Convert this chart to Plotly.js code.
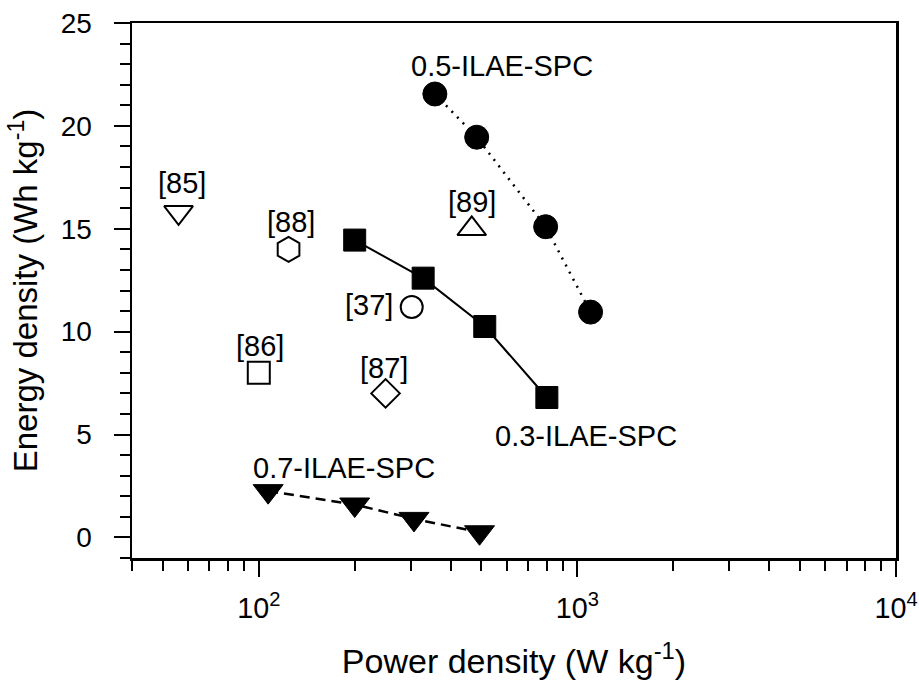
<!DOCTYPE html>
<html>
<head>
<meta charset="utf-8">
<script src="https://cdn.plot.ly/plotly-3.0.1.min.js"></script>
<style>html,body{margin:0;padding:0;background:#fff;}#chart{width:919px;height:680px;}</style>
</head>
<body>
<div id="chart"></div>
<script>
// ---- data ----
const seriesNames = ['0.5-ILAE-SPC', '0.3-ILAE-SPC', '0.7-ILAE-SPC'];
const power05 = [357, 483, 795, 1100];
const energy05 = [21.55, 19.45, 15.1, 10.95];
const power03 = [200, 328, 512, 802];
const energy03 = [14.45, 12.6, 10.25, 6.8];
const power07 = [107, 200, 307, 493];
const energy07 = [2.25, 1.6, 0.9, 0.25];

const refLabels = ['[85]', '[86]', '[87]', '[88]', '[89]', '[37]'];
const refPower = [56, 100, 250, 124, 466, 302];
const refEnergy = [15.8, 8.0, 7.0, 14.0, 15.0, 11.2];

const yTickVals = [0, 5, 10, 15, 20, 25];

// ---- styles ----
const FONT = 'Liberation Sans, Arial, sans-serif';
const refSymbols = ['triangle-down-open', 'square-open', 'diamond-open', 'hexagon-open', 'triangle-up-open', 'circle-open'];
const refSizes = [25, 22, 22, 25, 25, 22];
const refShift = [[3, 29], [1, 27], [-2, 25], [2, 27], [0, 27], [-43, 2]];

const traces = [
  {
    x: power05, y: energy05, mode: 'lines+markers', name: seriesNames[0],
    line: {color: '#000', width: 2.5, dash: '2px,6px'},
    marker: {symbol: 'circle', size: 24, color: '#000', line: {color: '#000', width: 1}}
  },
  {
    x: power03, y: energy03, mode: 'lines+markers', name: seriesNames[1],
    line: {color: '#000', width: 2},
    marker: {symbol: 'square', size: 22, color: '#000', line: {color: '#000', width: 1}}
  },
  {
    x: power07, y: energy07, mode: 'lines+markers', name: seriesNames[2],
    line: {color: '#000', width: 2.5, dash: '10px,6px'},
    marker: {symbol: 'triangle-down', size: 26, color: '#000', line: {color: '#000', width: 1}}
  }
];
refLabels.forEach(function (lab, i) {
  traces.push({
    x: [refPower[i]], y: [refEnergy[i]], mode: 'markers', name: lab,
    marker: {symbol: refSymbols[i], size: refSizes[i], color: '#000', line: {color: '#000', width: 2}}
  });
});

const annFont = {family: FONT, size: 29, color: '#000'};
const annotations = refLabels.map(function (lab, i) {
  return {
    x: Math.log10(refPower[i]), y: refEnergy[i], xref: 'x', yref: 'y',
    text: lab, showarrow: false, font: annFont,
    xshift: refShift[i][0], yshift: refShift[i][1]
  };
});
annotations.push({x: Math.log10(power05[0]), y: energy05[0], xref: 'x', yref: 'y', text: seriesNames[0],
  showarrow: false, font: annFont, xshift: 67, yshift: 28});
annotations.push({x: Math.log10(power03[3]), y: energy03[3], xref: 'x', yref: 'y', text: seriesNames[1],
  showarrow: false, font: annFont, xshift: 39, yshift: -38});
annotations.push({x: Math.log10(power07[0]), y: energy07[0], xref: 'x', yref: 'y', text: seriesNames[2],
  showarrow: false, font: annFont, xshift: 76, yshift: 23});

const layout = {
  width: 919, height: 680,
  margin: {l: 132, r: 23, t: 23, b: 122},
  paper_bgcolor: '#fff', plot_bgcolor: '#fff',
  showlegend: false,
  font: {family: FONT, color: '#000'},
  xaxis: {
    type: 'log', range: [Math.log10(40), 4], dtick: 1, exponentformat: 'power',
    showgrid: false, zeroline: false,
    showline: true, linecolor: '#000', linewidth: 2.5, mirror: true,
    ticks: 'outside', ticklen: 16, tickwidth: 2, tickcolor: '#000',
    ticklabelstandoff: 8,
    tickfont: {family: FONT, size: 23, color: '#000'},
    minor: {dtick: 'D1', ticks: 'outside', ticklen: 10, tickwidth: 2, tickcolor: '#000', showgrid: false},
    title: {text: 'Power density (W kg<sup>-1</sup>)', font: {family: FONT, size: 34, color: '#000'}, standoff: 32},
    automargin: false
  },
  yaxis: {
    range: [-1, 25], tickvals: yTickVals,
    showgrid: false, zeroline: false,
    showline: true, linecolor: '#000', linewidth: 2.5, mirror: true,
    ticks: 'outside', ticklen: 16, tickwidth: 2, tickcolor: '#000',
    ticklabelstandoff: 16,
    tickfont: {family: FONT, size: 28, color: '#000'},
    minor: {dtick: 1, ticks: 'outside', ticklen: 10, tickwidth: 2, tickcolor: '#000', showgrid: false},
    title: {text: 'Energy density (Wh kg<sup>-1</sup>)', font: {family: FONT, size: 33, color: '#000'}, standoff: 13},
    automargin: false
  },
  annotations: annotations
};

Plotly.newPlot('chart', traces, layout, {displayModeBar: false, staticPlot: true});
</script>
</body>
</html>
